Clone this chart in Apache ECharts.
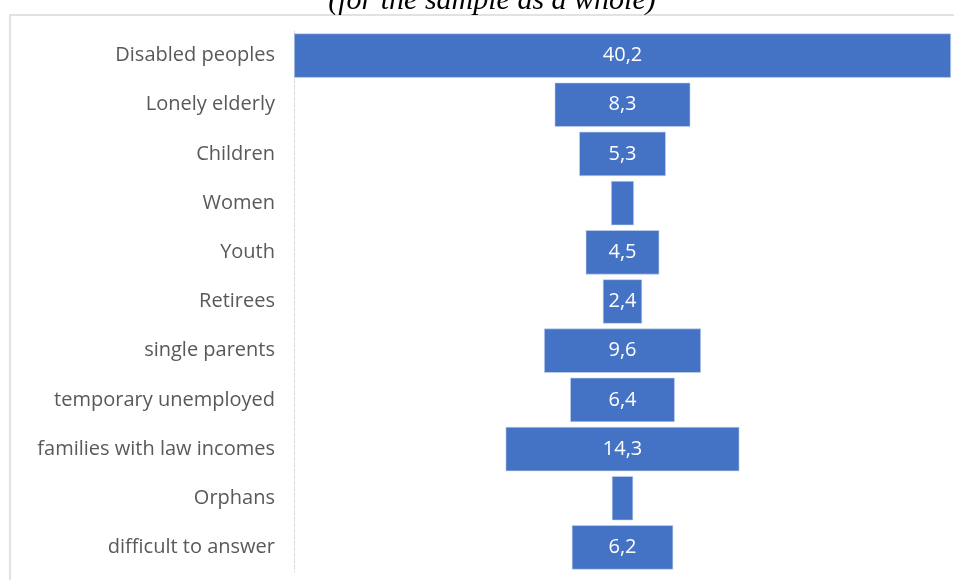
<!DOCTYPE html>
<html>
<head>
<meta charset="utf-8">
<script src="https://cdn.jsdelivr.net/npm/echarts@6/dist/echarts.min.js"></script>
<style>
  html, body { margin: 0; padding: 0; background: #fff; }
  #chart { width: 954px; height: 580px; }
</style>
</head>
<body>
<div id="chart"></div>
<script>
// categories, top to bottom
var categories = ['Disabled peoples', 'Lonely elderly', 'Children', 'Women', 'Youth', 'Retirees',
  'single parents', 'temporary unemployed', 'families with law incomes', 'Orphans', 'difficult to answer'];
// values (%), Women and Orphans have no visible label in the source
var values = [40.2, 8.3, 5.3, 1.4, 4.5, 2.4, 9.6, 6.4, 14.3, 1.3, 6.2];
var hideLabel = [false, false, false, true, false, false, false, false, false, true, false];

var maxVal = Math.max.apply(null, values);
// invisible offset so each bar sits centred (funnel look)
var offsets = values.map(function (v) { return (maxVal - v) / 2; });

var myChart = echarts.init(document.getElementById('chart'));

var option = {
    animation: false,
    title: {
        text: '(for the sample as a whole)',
        left: 487,
        textAlign: 'center',
        top: -19,
        textStyle: {
            fontFamily: 'Liberation Serif',
            fontStyle: 'italic',
            fontWeight: 'normal',
            fontSize: 30,
            color: '#000'
        }
    },
    graphic: [{
        type: 'rect',
        shape: { x: 10, y: 15, width: 960, height: 600 },
        style: { fill: 'none', stroke: '#d9d9d9', lineWidth: 1.5 },
        silent: true
    }],
    grid: { left: 294, right: 3, top: 31, bottom: 8 },
    xAxis: {
        type: 'value',
        min: 0,
        max: maxVal,
        show: false
    },
    yAxis: {
        type: 'category',
        data: categories,
        inverse: true,
        axisLine: { show: true, lineStyle: { color: '#d9d9d9', type: 'dashed', width: 1 } },
        axisTick: { show: false },
        axisLabel: {
            margin: 19,
            fontFamily: 'Open Sans',
            fontSize: 20,
            color: '#595959'
        }
    },
    series: [{
        name: 'offset',
        type: 'bar',
        stack: 'f',
        data: offsets,
        itemStyle: { color: 'transparent' },
        silent: true,
        barCategoryGap: '10%'
    }, {
        name: 'value',
        type: 'bar',
        stack: 'f',
        barCategoryGap: '10%',
        data: values.map(function (v, i) {
            return { value: v, label: { show: !hideLabel[i] } };
        }),
        itemStyle: { color: '#4472c4', borderColor: '#c9d6ee', borderWidth: 0.6 },
        label: {
            show: true,
            position: 'inside',
            color: '#fff',
            fontFamily: 'Open Sans',
            fontSize: 20,
            formatter: function (p) { return String(p.value).replace('.', ','); }
        }
    }]
};

myChart.setOption(option);
</script>
</body>
</html>
